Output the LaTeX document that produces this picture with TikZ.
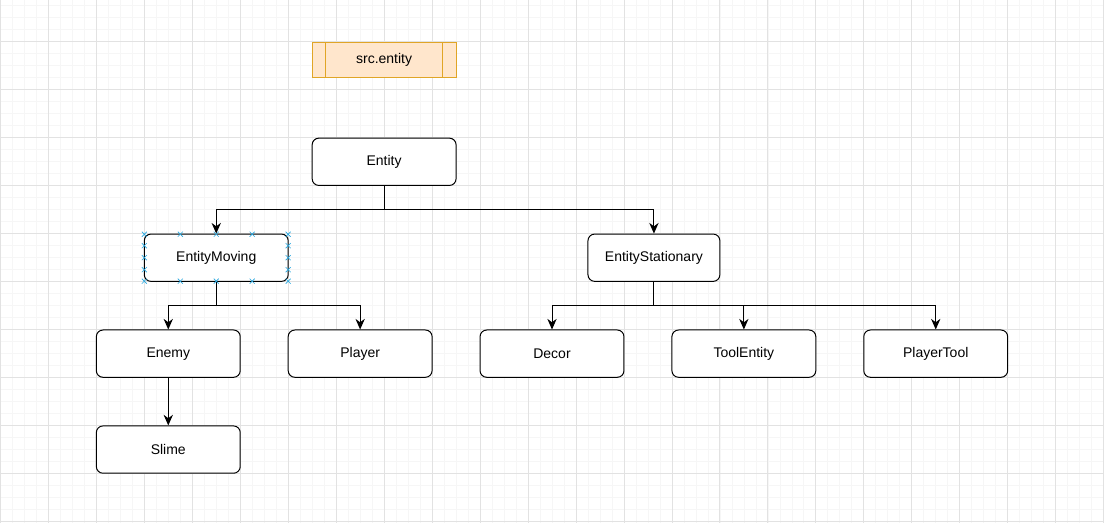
\documentclass[tikz,border=0pt]{standalone}
\usepackage{fontspec}
\setmainfont{Liberation Sans}
\usetikzlibrary{arrows.meta}
\definecolor{gridminor}{HTML}{F6F6F6}
\definecolor{gridmajor}{HTML}{E2E2E2}
\definecolor{pkgfill}{HTML}{FFE6CC}
\definecolor{pkgdraw}{HTML}{E0A526}
\definecolor{handle}{HTML}{29A8E0}
\begin{document}
\begin{tikzpicture}[x=0.75pt,y=-0.75pt,
                    line width=0.75pt,
                    font=\fontsize{10.5}{12}\selectfont]
    \tikzstyle{cls}=[draw=black,fill=white,rounded corners=5pt,minimum width=108pt,minimum height=35.5pt,inner sep=2pt]
    \tikzstyle{pkg}=[cls, rounded corners=0pt, fill=pkgfill, draw=pkgdraw, minimum height=26pt]
    \tikzstyle{arr}=[draw=black,-{Stealth[length=8pt,width=7pt]}]
    \tikzstyle{handlemark}=[draw=handle,line width=0.5pt]

    % background grid
    \fill[white] (0,0) rectangle (1104,523);
    \foreach \gx in {0,12,...,1104} \draw[gridminor,line width=0.5pt] (\gx,0) -- (\gx,523);
    \foreach \gy in {5,17,...,523} \draw[gridminor,line width=0.5pt] (0,\gy) -- (1104,\gy);
    \foreach \gx in {0,48,...,1104} \draw[gridmajor,line width=0.6pt] (\gx,0) -- (\gx,523);
    \foreach \gy in {41,89,...,523} \draw[gridmajor,line width=0.6pt] (0,\gy) -- (1104,\gy);
    \useasboundingbox (0,0) rectangle (1104,523);

    % package label
    \node[pkg] (pkg) at (384,59.5) {src.entity};
    \draw[pkgdraw] ([xshift=10.5pt]pkg.north west) -- ([xshift=10.5pt]pkg.south west);
    \draw[pkgdraw] ([xshift=-10.5pt]pkg.north east) -- ([xshift=-10.5pt]pkg.south east);

    % classes
    \node[cls] (entity) at (384,161.5) {Entity};
    \node[cls] (moving) at (216,257.5) {EntityMoving};
    \node[cls,minimum width=99pt] (stationary) at (654,257.5) {EntityStationary};
    \node[cls] (enemy) at (168,353.5) {Enemy};
    \node[cls] (player) at (360,353.5) {Player};
    \node[cls] (decor) at (552,353.5) {Decor};
    \node[cls] (toolentity) at (744,353.5) {ToolEntity};
    \node[cls] (playertool) at (936,353.5) {PlayerTool};
    \node[cls] (slime) at (168,449.5) {Slime};

    % inheritance
    \draw[arr] (entity.south) -- ++(0,24) -| (moving.north);
    \draw[arr] (entity.south) -- ++(0,24) -| (stationary.north);
    \draw[arr] (moving.south) -- ++(0,24) -| (enemy.north);
    \draw[arr] (moving.south) -- ++(0,24) -| (player.north);
    \draw[arr] (stationary.south) -- ++(0,24) -| (decor.north);
    \draw[arr] (stationary.south) -- ++(0,24) -| (toolentity.north);
    \draw[arr] (stationary.south) -- ++(0,24) -| (playertool.north);
    \draw[arr] (enemy.south) -- (slime.north);

    % selection handles
    \foreach \hx in {144,180,216,252,288} {
        \draw[handlemark] (\hx-2.5,231.5) -- (\hx+2.5,236.5) (\hx-2.5,236.5) -- (\hx+2.5,231.5);
        \draw[handlemark] (\hx-2.5,278.5) -- (\hx+2.5,283.5) (\hx-2.5,283.5) -- (\hx+2.5,278.5);
    }
    \foreach \hy in {245.5,257.5,269.5} {
        \draw[handlemark] (141.5,\hy-2.5) -- (146.5,\hy+2.5) (141.5,\hy+2.5) -- (146.5,\hy-2.5);
        \draw[handlemark] (285.5,\hy-2.5) -- (290.5,\hy+2.5) (285.5,\hy+2.5) -- (290.5,\hy-2.5);
    }
\end{tikzpicture}
\end{document}
